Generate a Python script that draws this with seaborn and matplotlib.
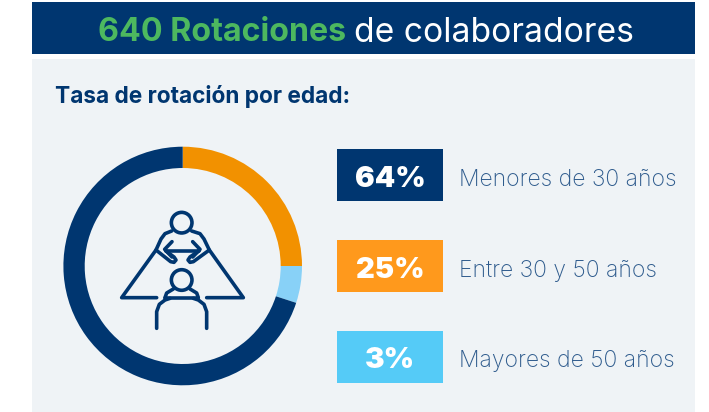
import matplotlib
matplotlib.use("Agg")
import matplotlib.pyplot as plt
import numpy as np
import seaborn as sns
from matplotlib.patches import Circle, Rectangle

# ring shares as drawn in the picture (they differ from the printed labels)
ring_groups = ["Entre 30 y 50 años", "Mayores de 50 años", "Menores de 30 años"]
ring_shares = [25, 5, 70]
ring_colors = ["#F29100", "#88D1F7", "#003670"]

legend_values = ["64%", "25%", "3%"]
legend_labels = ["Menores de 30 años", "Entre 30 y 50 años", "Mayores de 50 años"]
legend_colors = ["#003670", "#FF991C", "#55CBF7"]

NAVY = "#003670"
GREEN = "#4DB85F"
PANEL = "#EFF3F6"
LABEL = "#2E5B8D"
W, H = 709, 412
ICON_LW = 2.6


def icon_xy(x, y):
    """Convert coordinates of the icon sketch (3x crop) to figure pixels."""
    return 50 + np.asarray(x) / 3, 135 + np.asarray(y) / 3


def icon_line(ax, points):
    x, y = icon_xy(*zip(*points))
    ax.plot(x, y, color=NAVY, lw=ICON_LW, solid_capstyle="round", solid_joinstyle="round")


def draw_icon(ax):
    for cy in (263, 435):
        cx, py = icon_xy(395, cy)
        ax.add_patch(Circle((cx, py), 10.3, fill=False, ec=NAVY, lw=ICON_LW))
    # upper figure: shoulders and arms
    icon_line(ax, [(365, 288), (345, 296), (333, 312), (318, 345), (362, 380), (372, 382), (378, 375), (372, 366), (348, 348)])
    icon_line(ax, [(425, 288), (450, 296), (462, 312), (478, 345), (430, 380), (420, 382), (414, 375), (420, 366), (446, 348)])
    # arrow between the two hands
    icon_line(ax, [(348, 348), (448, 348)])
    icon_line(ax, [(366, 320), (344, 343), (366, 366)])
    icon_line(ax, [(428, 320), (450, 343), (428, 366)])
    # table
    icon_line(ax, [(318, 345), (215, 488), (320, 488)])
    icon_line(ax, [(478, 345), (580, 488), (470, 488)])
    # lower figure and chair
    icon_line(ax, [(345, 488), (350, 474), (370, 462)])
    icon_line(ax, [(445, 488), (440, 474), (420, 462)])
    icon_line(ax, [(345, 488), (445, 488)])
    icon_line(ax, [(320, 580), (320, 530), (328, 508), (345, 495), (360, 490)])
    icon_line(ax, [(470, 580), (470, 530), (462, 508), (445, 495), (430, 490)])


sns.set_theme(style="white")
plt.rcParams["font.family"] = ["Inter", "DejaVu Sans"]

fig = plt.figure(figsize=(W / 100, H / 100), dpi=100, facecolor="white")
ax = fig.add_axes([0, 0, 1, 1])
ax.set_xlim(0, W)
ax.set_ylim(H, 0)
ax.axis("off")

# header and panel
ax.add_patch(Rectangle((32, 2), 663, 52, color=NAVY, lw=0))
ax.add_patch(Rectangle((32, 59), 663, 353, color=PANEL, lw=0))

title_bold = ax.text(98, 29, "640 Rotaciones", color=GREEN, fontsize=23.2, fontweight="bold", va="center_baseline")
fig.canvas.draw()
bold_end = title_bold.get_window_extent().x1
ax.text(bold_end + 8, 29, "de colaboradores", color="white", fontsize=24.2, va="center_baseline")

ax.text(55, 94, "Tasa de rotación por edad:", color=NAVY, fontsize=16.3, fontweight="bold", va="center_baseline")

# legend boxes
for i, (value, label, color) in enumerate(zip(legend_values, legend_labels, legend_colors)):
    top = 149 + i * 91
    ax.add_patch(Rectangle((337, top), 106, 52, color=color, lw=0))
    ax.text(390, top + 27, value, color="white", fontsize=21, fontweight="black", ha="center", va="center_baseline")
    ax.text(459, top + 28, label, color=LABEL, fontsize=16.5, fontweight="light", va="center_baseline")

draw_icon(ax)

# donut in its own axes so the angles come from the library
ring_ax = fig.add_axes([62.7 / W, (H - 386) / H, 240 / W, 240 / H])
ring_ax.pie(
    ring_shares,
    colors=ring_colors,
    startangle=90,
    counterclock=False,
    radius=119.3,
    wedgeprops={"width": 21.3, "linewidth": 0},
)
ring_ax.set_xlim(-120, 120)
ring_ax.set_ylim(-120, 120)
ring_ax.patch.set_alpha(0)

fig.savefig("out.png", dpi=100, facecolor="white")
